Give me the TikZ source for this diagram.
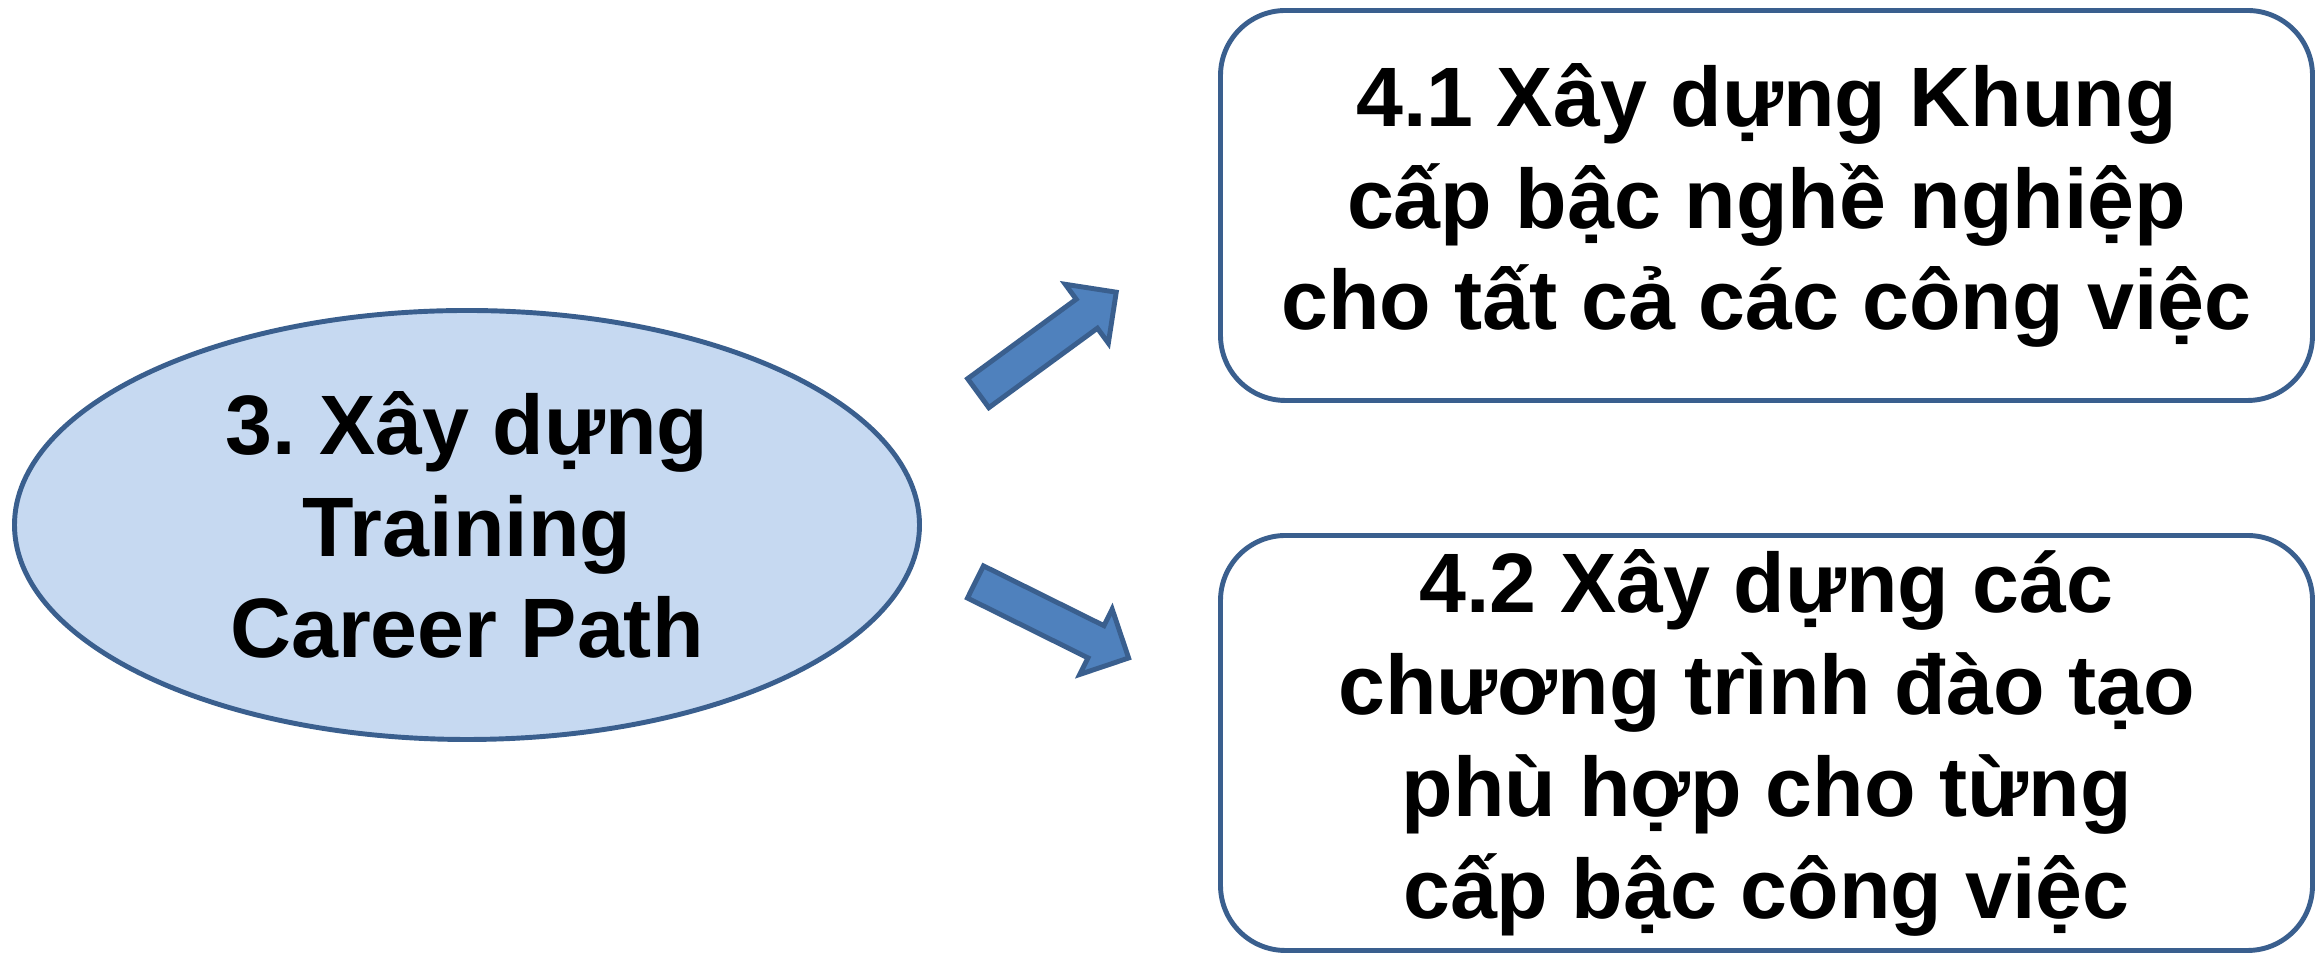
\documentclass[tikz,border=0pt]{standalone}
\usepackage{fontspec}
\setmainfont{Liberation Sans}
\usetikzlibrary{shapes.geometric,shapes.arrows}
\definecolor{randblau}{HTML}{3A5F8E}
\definecolor{hellblau}{HTML}{C6D9F1}
\definecolor{pfeilblau}{HTML}{4F81BD}
\tikzset{
  schritt/.style={draw=randblau, line width=1.4pt, align=center,
    font=\bfseries\fontsize{24}{29}\selectfont\frenchspacing},
  kasten/.style={schritt, fill=white, rounded corners=0.65cm, minimum width=10.92cm, inner sep=0pt},
  pfeil/.style={draw=randblau, fill=pfeilblau, line width=1.4pt, single arrow,
    single arrow head extend=0.185cm, single arrow head indent=0cm, minimum height=1.71cm,
    inner xsep=0pt, inner ysep=0.155cm, text height=0pt, text depth=0pt}
}
\begin{document}
\begin{tikzpicture}
    \useasboundingbox (0,0) rectangle (23.23,9.56);
    \node[schritt, ellipse, fill=hellblau, minimum width=9.05cm, minimum height=4.29cm, inner sep=0pt] (careerpath) at (4.67,4.31) {3. Xây dựng\\Training\\Career Path}; %Schritt 3
    \node[kasten, minimum height=3.90cm] (khung) at (17.665,7.505) {4.1 Xây dựng Khung\\cấp bậc nghề nghiệp\\cho tất cả các công việc}; %Schritt 4.1
    \node[kasten, minimum height=4.15cm] (daotao) at (17.665,2.13) {4.2 Xây dựng các\\chương trình đào tạo\\phù hợp cho từng\\cấp bậc công việc}; %Schritt 4.2
    \node[pfeil, rotate=36.2] (pfeiloben) at (10.40,6.08) {}; %nach oben
    \node[pfeil, rotate=-26.4] (pfeilunten) at (10.44,3.40) {}; %nach unten
\end{tikzpicture}
\end{document}
